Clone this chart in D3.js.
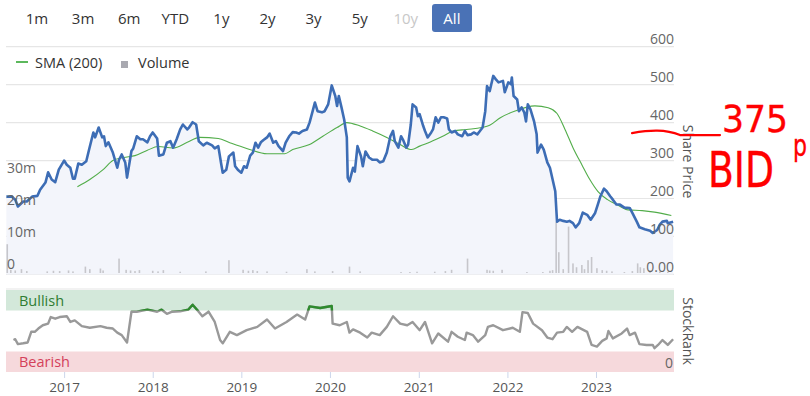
<!DOCTYPE html>
<html>
<head>
<meta charset="utf-8">
<script src="https://cdn.jsdelivr.net/npm/d3@7"></script>
<style>
body { margin: 0; background: #fff; }
svg { font-family: "Open Sans", "Noto Sans", sans-serif; }
</style>
</head>
<body>
<div id="chart"></div>
<script>
const width = 810;
const height = 396;

const rangeButtons = ["1m", "3m", "6m", "YTD", "1y", "2y", "3y", "5y", "10y", "All"];
const priceTicks = [0, 100, 200, 300, 400, 500, 600];
const volumeTicks = [0, 10e6, 20e6, 30e6];
const yearTicks = [2017, 2018, 2019, 2020, 2021, 2022, 2023];

// [decimal year, price in p]
const price = [
    [2016.35, 205], [2016.41, 205], [2016.45, 197], [2016.48, 179], [2016.54, 192], [2016.58, 192],
    [2016.64, 205], [2016.70, 207], [2016.73, 223], [2016.79, 242], [2016.82, 269], [2016.86, 250],
    [2016.90, 243], [2016.94, 276], [2017.00, 300], [2017.03, 289], [2017.07, 281], [2017.10, 252],
    [2017.12, 252], [2017.16, 292], [2017.20, 289], [2017.25, 298], [2017.28, 327], [2017.33, 374],
    [2017.35, 361], [2017.39, 387], [2017.43, 361], [2017.45, 364], [2017.47, 338], [2017.50, 348],
    [2017.55, 321], [2017.60, 281], [2017.62, 302], [2017.65, 316], [2017.69, 295], [2017.71, 255],
    [2017.76, 325], [2017.78, 332], [2017.82, 364], [2017.86, 356], [2017.89, 356], [2017.94, 348],
    [2017.97, 364], [2018.00, 374], [2018.05, 358], [2018.07, 313], [2018.12, 316], [2018.16, 347],
    [2018.20, 351], [2018.23, 334], [2018.27, 356], [2018.31, 382], [2018.34, 395], [2018.39, 382],
    [2018.41, 387], [2018.45, 401], [2018.49, 395], [2018.52, 351], [2018.57, 340], [2018.61, 347],
    [2018.67, 340], [2018.70, 332], [2018.74, 338], [2018.77, 295], [2018.79, 268], [2018.83, 276],
    [2018.86, 311], [2018.91, 321], [2018.93, 285], [2018.96, 276], [2019.00, 268], [2019.03, 285],
    [2019.06, 281], [2019.10, 313], [2019.13, 321], [2019.16, 347], [2019.19, 334], [2019.22, 348],
    [2019.25, 354], [2019.29, 361], [2019.32, 371], [2019.36, 347], [2019.39, 351], [2019.42, 338],
    [2019.47, 325], [2019.50, 347], [2019.54, 364], [2019.58, 375], [2019.62, 374], [2019.65, 371],
    [2019.69, 378], [2019.74, 382], [2019.77, 400], [2019.81, 435], [2019.83, 453], [2019.86, 430],
    [2019.91, 427], [2019.94, 430], [2019.98, 448], [2020.02, 498], [2020.06, 470], [2020.08, 444],
    [2020.10, 470], [2020.13, 440], [2020.16, 408], [2020.19, 361], [2020.20, 255], [2020.22, 245],
    [2020.26, 281], [2020.28, 271], [2020.31, 338], [2020.35, 311], [2020.37, 285], [2020.40, 324],
    [2020.44, 308], [2020.48, 302], [2020.53, 302], [2020.56, 295], [2020.60, 298], [2020.64, 321],
    [2020.68, 364], [2020.71, 378], [2020.73, 351], [2020.77, 334], [2020.80, 364], [2020.82, 356],
    [2020.86, 334], [2020.88, 342], [2020.91, 395], [2020.93, 448], [2020.97, 440], [2020.99, 417],
    [2021.01, 422], [2021.05, 391], [2021.07, 378], [2021.10, 361], [2021.14, 374], [2021.16, 382],
    [2021.19, 414], [2021.22, 400], [2021.25, 414], [2021.28, 414], [2021.32, 411], [2021.34, 382],
    [2021.37, 374], [2021.41, 378], [2021.44, 369], [2021.49, 364], [2021.52, 378], [2021.55, 367],
    [2021.59, 369], [2021.62, 374], [2021.66, 369], [2021.69, 378], [2021.72, 387], [2021.75, 430],
    [2021.77, 496], [2021.80, 483], [2021.84, 523], [2021.87, 514], [2021.90, 506], [2021.95, 510],
    [2021.97, 480], [2022.01, 506], [2022.04, 501], [2022.05, 519], [2022.07, 470], [2022.11, 461],
    [2022.13, 430], [2022.16, 440], [2022.19, 427], [2022.21, 403], [2022.23, 448], [2022.26, 435],
    [2022.30, 404], [2022.33, 369], [2022.34, 321], [2022.38, 342], [2022.41, 329], [2022.45, 295],
    [2022.48, 281], [2022.51, 250], [2022.54, 219], [2022.56, 139], [2022.59, 144], [2022.63, 141],
    [2022.67, 139], [2022.70, 141], [2022.74, 135], [2022.77, 124], [2022.81, 135], [2022.85, 163],
    [2022.90, 157], [2022.94, 144], [2022.99, 162], [2023.02, 184], [2023.05, 206], [2023.09, 226],
    [2023.12, 219], [2023.16, 206], [2023.19, 197], [2023.23, 184], [2023.27, 184], [2023.32, 176],
    [2023.38, 175], [2023.41, 162], [2023.46, 139], [2023.49, 124], [2023.55, 119], [2023.61, 115],
    [2023.64, 109], [2023.69, 117], [2023.72, 131], [2023.75, 139], [2023.80, 141], [2023.81, 135],
    [2023.87, 139]
];

// [decimal year, 200-day SMA]
const sma = [
    [2017.15, 231], [2017.29, 250], [2017.44, 276], [2017.55, 300], [2017.67, 308], [2017.80, 313],
    [2017.94, 327], [2018.06, 337], [2018.23, 333], [2018.39, 348], [2018.53, 361], [2018.74, 358],
    [2018.87, 347], [2019.06, 332], [2019.29, 318], [2019.49, 318], [2019.58, 329], [2019.77, 342],
    [2019.92, 364], [2020.08, 387], [2020.19, 400], [2020.34, 391], [2020.48, 378], [2020.64, 361],
    [2020.79, 342], [2020.92, 329], [2021.01, 338], [2021.13, 349], [2021.27, 364], [2021.39, 378],
    [2021.54, 382], [2021.71, 387], [2021.80, 393], [2021.92, 413], [2022.08, 430], [2022.31, 444],
    [2022.46, 439], [2022.56, 424], [2022.65, 382], [2022.74, 334], [2022.84, 289], [2022.93, 250],
    [2023.02, 219], [2023.13, 197], [2023.25, 182], [2023.36, 170], [2023.52, 168], [2023.66, 164],
    [2023.85, 155]
];

// [decimal year, volume in millions of shares]
const volume = [
    [2016.36, 9.0], [2016.40, 1.0], [2016.45, 0.8], [2016.52, 1.2], [2016.58, 0.6], [2016.81, 0.5],
    [2016.88, 0.7], [2016.95, 0.6], [2017.05, 0.8], [2017.10, 0.5], [2017.24, 2.0], [2017.29, 1.2],
    [2017.41, 1.4], [2017.44, 0.8], [2017.62, 4.5], [2017.70, 1.0], [2017.75, 0.8], [2017.80, 0.6],
    [2017.85, 0.9], [2018.00, 0.7], [2018.06, 0.5], [2018.12, 0.9], [2018.31, 0.4], [2018.60, 0.5],
    [2018.86, 4.0], [2019.02, 1.0], [2019.08, 0.7], [2019.13, 0.9], [2019.18, 0.6], [2019.29, 0.5],
    [2019.51, 0.4], [2019.74, 1.2], [2019.83, 0.5], [2020.03, 0.6], [2020.22, 2.0], [2020.34, 0.5],
    [2020.80, 0.3], [2020.90, 0.3], [2020.98, 0.4], [2021.18, 0.4], [2021.30, 0.6], [2021.37, 1.0],
    [2021.55, 4.5], [2021.77, 1.0], [2021.80, 0.8], [2021.84, 0.7], [2021.94, 1.0], [2022.22, 0.3],
    [2022.40, 0.3], [2022.48, 0.7], [2022.51, 0.9], [2022.55, 16.0], [2022.58, 6.5], [2022.63, 1.2],
    [2022.69, 14.5], [2022.74, 3.0], [2022.78, 1.8], [2022.84, 2.5], [2022.87, 1.2], [2022.91, 4.0],
    [2022.95, 5.0], [2023.01, 1.5], [2023.07, 0.9], [2023.12, 0.7], [2023.18, 0.5], [2023.32, 0.3],
    [2023.41, 0.6], [2023.47, 3.0], [2023.50, 1.8], [2023.54, 1.5], [2023.61, 0.8], [2023.72, 0.5],
    [2023.81, 0.4]
];

// [decimal year, StockRank 0-100]
const stockRank = [
    [2016.43, 39], [2016.45, 40], [2016.48, 34], [2016.54, 35], [2016.59, 36], [2016.63, 49],
    [2016.67, 49], [2016.71, 53], [2016.76, 57], [2016.82, 59], [2016.85, 67], [2016.90, 65],
    [2016.95, 67], [2017.03, 68], [2017.07, 61], [2017.12, 63], [2017.20, 56], [2017.29, 54],
    [2017.41, 56], [2017.48, 54], [2017.55, 53], [2017.60, 48], [2017.65, 45], [2017.71, 36],
    [2017.76, 73.5], [2017.82, 73.5], [2017.94, 76], [2018.05, 73.5], [2018.10, 76], [2018.16, 71],
    [2018.22, 73.5], [2018.31, 74], [2018.40, 76], [2018.45, 82], [2018.50, 76], [2018.56, 68],
    [2018.63, 73.5], [2018.70, 61], [2018.76, 39], [2018.79, 35], [2018.87, 49], [2018.95, 45],
    [2019.06, 51], [2019.18, 55], [2019.29, 64], [2019.38, 53], [2019.51, 61], [2019.63, 70],
    [2019.72, 64], [2019.77, 80], [2019.89, 78], [2020.02, 80.5], [2020.03, 59], [2020.11, 57],
    [2020.19, 61], [2020.22, 48], [2020.26, 52], [2020.34, 48], [2020.42, 42], [2020.47, 48],
    [2020.56, 45], [2020.64, 55], [2020.71, 68], [2020.79, 59], [2020.87, 57], [2020.93, 61],
    [2021.01, 51], [2021.07, 61], [2021.15, 35], [2021.22, 47], [2021.33, 37], [2021.37, 49],
    [2021.44, 43], [2021.52, 39], [2021.54, 48], [2021.61, 45], [2021.67, 37], [2021.75, 45],
    [2021.78, 55], [2021.84, 57], [2021.95, 51], [2022.06, 54], [2022.14, 49], [2022.17, 73],
    [2022.23, 72], [2022.29, 59], [2022.39, 51], [2022.45, 42], [2022.51, 40], [2022.56, 48],
    [2022.63, 49], [2022.67, 55], [2022.73, 49], [2022.79, 55], [2022.90, 49], [2022.95, 33],
    [2023.01, 31], [2023.07, 38], [2023.12, 41], [2023.14, 50], [2023.19, 41], [2023.29, 47],
    [2023.35, 53], [2023.38, 45], [2023.44, 48], [2023.49, 34], [2023.57, 33], [2023.64, 33],
    [2023.66, 29], [2023.70, 33], [2023.75, 39], [2023.81, 33], [2023.87, 40]
];

function toDate(t) {
    const y = Math.floor(t);
    const start = new Date(y, 0, 1), end = new Date(y + 1, 0, 1);
    return new Date(+start + (t - y) * (end - start));
}

const svg = d3.select("#chart")
    .append("svg")
    .attr("width", width)
    .attr("height", height);

const x = d3.scaleTime()
    .domain([toDate(2016.346), toDate(2023.88)])
    .range([6, 674]);
const yPrice = d3.scaleLinear().domain([0, 600]).range([274.4, 46.7]);
const yVol = d3.scaleLinear().domain([0, 30e6]).range([273, 177]);
const yRank = d3.scaleLinear().domain([0, 100]).range([372, 290]);

// Range selector buttons
svg.append("rect")
    .attr("x", 432).attr("y", 4)
    .attr("width", 40).attr("height", 28)
    .attr("rx", 3)
    .attr("fill", "#4a72b6");

svg.selectAll(".range-btn")
    .data(rangeButtons)
    .enter().append("text")
    .attr("x", (d, i) => 37 + i * 46.1)
    .attr("y", 23.5)
    .attr("text-anchor", "middle")
    .attr("font-size", "15px")
    .attr("fill", d => d === "All" ? "#fff" : d === "10y" ? "#c8c8c8" : "#333")
    .text(d => d);

// Legend
svg.append("line")
    .attr("x1", 16).attr("x2", 28).attr("y1", 62).attr("y2", 62)
    .attr("stroke", "#5cb85c").attr("stroke-width", 2);
svg.append("text")
    .attr("x", 35).attr("y", 67.5)
    .attr("font-size", "14.5px").attr("fill", "#333")
    .text("SMA (200)");
svg.append("rect")
    .attr("x", 121).attr("y", 61).attr("width", 7).attr("height", 7)
    .attr("fill", "#a9a9b0");
svg.append("text")
    .attr("x", 138).attr("y", 67.5)
    .attr("font-size", "14.5px").attr("fill", "#333")
    .text("Volume");

// Price gridlines
svg.selectAll(".grid")
    .data(priceTicks)
    .enter().append("line")
    .attr("x1", 6).attr("x2", 674)
    .attr("y1", d => yPrice(d)).attr("y2", d => yPrice(d))
    .attr("stroke", "#e6e6e6")
    .attr("stroke-width", 1.2);

// Price area + line
svg.append("path")
    .datum(price)
    .attr("fill", "#f3f5fb")
    .attr("d", d3.area()
        .x(d => x(toDate(d[0])))
        .y0(yPrice(0))
        .y1(d => yPrice(d[1])));

// Volume bars
svg.selectAll(".vol")
    .data(volume)
    .enter().append("rect")
    .attr("x", d => x(toDate(d[0])) - 0.8)
    .attr("width", 1.6)
    .attr("y", d => yVol(d[1] * 1e6))
    .attr("height", d => yVol(0) - yVol(d[1] * 1e6))
    .attr("fill", "#c6c6cb");

svg.append("path")
    .datum(sma)
    .attr("fill", "none")
    .attr("stroke", "#52ad4a")
    .attr("stroke-width", 1.1)
    .attr("d", d3.line()
        .curve(d3.curveMonotoneX)
        .x(d => x(toDate(d[0])))
        .y(d => yPrice(d[1])));

svg.append("path")
    .datum(price)
    .attr("fill", "none")
    .attr("stroke", "#3d6db5")
    .attr("stroke-width", 2.6)
    .attr("stroke-linejoin", "round")
    .attr("d", d3.line()
        .x(d => x(toDate(d[0])))
        .y(d => yPrice(d[1])));

// Volume axis labels (left, inside)
svg.selectAll(".vol-label")
    .data(volumeTicks)
    .enter().append("text")
    .attr("x", 7)
    .attr("y", d => yVol(d) - 4)
    .attr("font-size", "14px")
    .attr("fill", "#666")
    .text(d => d === 0 ? "0" : (d / 1e6) + "m");

// Price axis labels (right)
svg.selectAll(".price-label")
    .data(priceTicks)
    .enter().append("text")
    .attr("x", 674)
    .attr("y", d => yPrice(d) - 2.5)
    .attr("text-anchor", "end")
    .attr("font-size", "14px")
    .attr("fill", "#666")
    .text(d => d === 0 ? "0.00" : d);

svg.append("text")
    .attr("transform", `translate(683,${(yPrice(0) + yPrice(600)) / 2 + 1}) rotate(90)`)
    .attr("text-anchor", "middle")
    .attr("font-size", "14px")
    .attr("fill", "#555")
    .text("Share Price");

// StockRank panel
svg.append("line")
    .attr("x1", 6).attr("x2", 674)
    .attr("y1", 289).attr("y2", 289)
    .attr("stroke", "#e6e6e6").attr("stroke-width", 1.2);

svg.append("rect")
    .attr("x", 6).attr("width", 668)
    .attr("y", yRank(100)).attr("height", yRank(75) - yRank(100))
    .attr("fill", "#d3e8da");
svg.append("rect")
    .attr("x", 6).attr("width", 668)
    .attr("y", yRank(25)).attr("height", yRank(0) - yRank(25))
    .attr("fill", "#f6d9dc");

svg.append("text")
    .attr("x", 19).attr("y", yRank(87.5) + 5.5)
    .attr("font-size", "14.5px").attr("fill", "#2f7d32")
    .text("Bullish");
svg.append("text")
    .attr("x", 19).attr("y", yRank(12.5) + 5.5)
    .attr("font-size", "14.5px").attr("fill", "#d4405a")
    .text("Bearish");

svg.append("text")
    .attr("x", 673).attr("y", yRank(0) - 4)
    .attr("text-anchor", "end")
    .attr("font-size", "14px").attr("fill", "#666")
    .text("0");

const rankLine = d3.line()
    .x(d => x(toDate(d[0])))
    .y(d => yRank(d[1]));

svg.append("defs").append("clipPath")
    .attr("id", "bull-clip")
    .append("rect")
    .attr("x", 0).attr("width", width)
    .attr("y", 0).attr("height", yRank(75));

svg.append("path")
    .datum(stockRank)
    .attr("fill", "none")
    .attr("stroke", "#999")
    .attr("stroke-width", 2.4)
    .attr("stroke-linejoin", "round")
    .attr("d", rankLine);

svg.append("path")
    .datum(stockRank)
    .attr("fill", "none")
    .attr("stroke", "#2e8b2e")
    .attr("stroke-width", 2.4)
    .attr("stroke-linejoin", "round")
    .attr("clip-path", "url(#bull-clip)")
    .attr("d", rankLine);

svg.append("text")
    .attr("transform", `translate(683,${(yRank(0) + yRank(100)) / 2}) rotate(90)`)
    .attr("text-anchor", "middle")
    .attr("font-size", "14px")
    .attr("fill", "#555")
    .text("StockRank");

// X axis
const xAxis = svg.append("g")
    .attr("transform", `translate(0,${yRank(0)})`)
    .call(d3.axisBottom(x)
        .tickValues(yearTicks.map(y => new Date(y, 0, 1)))
        .tickFormat(d3.timeFormat("%Y"))
        .tickSize(6)
        .tickPadding(4));
xAxis.select(".domain").remove();
xAxis.selectAll(".tick line").attr("stroke", "#ccd6eb");
xAxis.selectAll(".tick text")
    .attr("font-size", "13.5px")
    .attr("fill", "#555")
    .attr("font-family", "\"Open Sans\", sans-serif");

// Hand-drawn annotation at the 375p level
const y375 = yPrice(375);
svg.append("path")
    .attr("d", `M632,${y375 + 1} C650,${y375 - 2} 665,${y375 - 3} 680,${y375 + 3} L720,${y375 + 3}`)
    .attr("fill", "none")
    .attr("stroke", "#f00")
    .attr("stroke-width", 2.2)
    .attr("stroke-linecap", "round");

// squeeze each red word horizontally to the width it has in the picture
const redText = (t, xPos, yPos, size, len) => {
    const el = svg.append("text")
        .attr("font-size", size + "px")
        .attr("font-family", "\"DejaVu Sans\", sans-serif")
        .attr("fill", "#f00")
        .attr("stroke", "#f00")
        .attr("stroke-width", 0.4)
        .text(t);
    const natural = el.node().getComputedTextLength();
    el.attr("transform", `translate(${xPos},${yPos}) scale(${len / natural},1)`);
};

redText("375", 722, 132, 37, 66);
redText("p", 793, 156, 30, 14);
redText("BID", 708, 187, 50, 66);
</script>
</body>
</html>
